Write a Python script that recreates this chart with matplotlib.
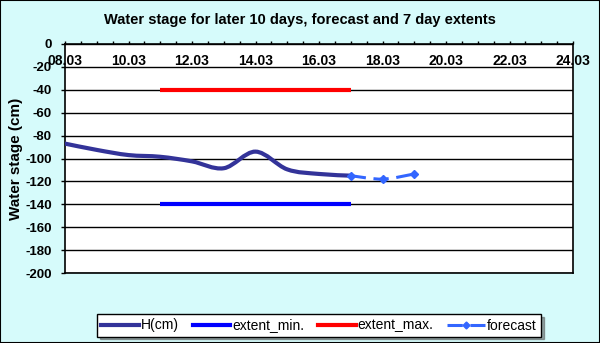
import matplotlib
matplotlib.use("Agg")
import matplotlib.pyplot as plt
from matplotlib.path import Path
from matplotlib.patches import PathPatch
from matplotlib.lines import Line2D
import numpy as np

plt.rcParams['font.family'] = ['Liberation Sans', 'DejaVu Sans']

# ---- data ----
title = "Water stage for later 10 days, forecast and 7 day extents"
h_dates = ["08.03", "09.03", "10.03", "11.03", "12.03", "13.03", "14.03", "15.03", "16.03", "17.03"]
h_values = [-87, -92.5, -97, -98.5, -102.5, -108.5, -94, -109.5, -113.5, -115]
fc_dates = ["17.03", "18.03", "19.03"]
fc_values = [-115, -118, -113.5]
ext_dates = ["11.03", "17.03"]
ext_min = [-140, -140]
ext_max = [-40, -40]
xtick_labels = ["08.03", "10.03", "12.03", "14.03", "16.03", "18.03", "20.03", "22.03", "24.03"]
yticks = [0, -20, -40, -60, -80, -100, -120, -140, -160, -180, -200]


def day(s):
    return float(s.split(".")[0])


def smooth_path(xs, ys):
    pts = np.column_stack([xs, ys]).astype(float)
    n = len(pts)
    verts = [pts[0]]
    codes = [Path.MOVETO]
    for i in range(n - 1):
        p0 = pts[i - 1] if i > 0 else pts[i]
        p1 = pts[i]
        p2 = pts[i + 1]
        p3 = pts[i + 2] if i + 2 < n else pts[i + 1]
        c1 = p1 + (p2 - p0) / 6.0
        c2 = p2 - (p3 - p1) / 6.0
        verts += [c1, c2, p2]
        codes += [Path.CURVE4] * 3
    return Path(verts, codes)


bg = '#D6FBFB'
fig = plt.figure(figsize=(6.0, 3.43), dpi=100, facecolor=bg)
fig.patches.append(plt.Rectangle((0, 0), 1, 1, transform=fig.transFigure,
                                 fill=False, edgecolor='black', linewidth=1.5))
ax = fig.add_axes([65 / 600, 1 - 273 / 343, (573 - 65) / 600, (273 - 44) / 343])
ax.set_facecolor('white')

hx = [day(d) for d in h_dates]
fx = [day(d) for d in fc_dates]
ex = [day(d) for d in ext_dates]

c_h = '#333399'
c_min = '#0000FF'
c_max = '#FF0000'
c_fc = '#3366FF'

ax.add_patch(PathPatch(smooth_path(hx, h_values), facecolor='none', edgecolor=c_h,
                       linewidth=3.0, capstyle='round', zorder=4))
ax.plot(ex, ext_min, color=c_min, linewidth=3.0, zorder=3, solid_capstyle='butt')
ax.plot(ex, ext_max, color=c_max, linewidth=3.0, zorder=3, solid_capstyle='butt')
ax.add_patch(PathPatch(smooth_path(fx, fc_values), facecolor='none', edgecolor=c_fc,
                       linewidth=2.2, linestyle=(0, (5, 2.5)), zorder=5))
ax.plot(fx, fc_values, linestyle='none', marker='D', markersize=4, color=c_fc, zorder=6)

ax.set_xlim(8, 24)
ax.set_ylim(-200, 0)
ax.set_yticks(yticks)
ax.set_yticklabels([str(v) for v in yticks], fontweight='bold', fontsize=9.5)
ax.yaxis.grid(True, color='black', linewidth=1)
ax.set_axisbelow(True)

xt = [day(s) for s in xtick_labels]
ax.set_xticks(xt)
ax.set_xticklabels(xtick_labels, fontweight='bold', fontsize=10)
ax.set_xticks(np.arange(8, 24.01, 0.5), minor=True)
ax.xaxis.set_ticks_position('top')
ax.tick_params(axis='x', which='both', direction='out', length=2.5, width=1, color='black')
ax.tick_params(axis='x', which='major', pad=-20)
ax.tick_params(axis='y', direction='out', length=3, width=1, pad=6.5)
for s in ax.spines.values():
    s.set_linewidth(1.2)
    s.set_color('black')

ax.set_ylabel("Water stage (cm)", fontweight='bold', fontsize=11)
ax.yaxis.set_label_coords(-0.082, 0.5)

fig.text(0.5, 1 - 20 / 343, title, ha='center', va='center', fontweight='bold', fontsize=10.5)

handles = [
    Line2D([], [], color=c_h, linewidth=3.0),
    Line2D([], [], color=c_min, linewidth=3.0),
    Line2D([], [], color=c_max, linewidth=3.0),
    Line2D([], [], color=c_fc, linewidth=2.2, linestyle=(0, (5, 2.5)), marker='D', markersize=3.5),
]
labels = ["H(cm)", "extent_min.", "extent_max.", "forecast"]
leg = fig.legend(handles, labels, loc='center', bbox_to_anchor=(319 / 600, 1 - 325.5 / 343),
                 ncol=4, fontsize=10, frameon=True, fancybox=False, shadow=True,
                 edgecolor='black', framealpha=1, handlelength=2.7, handletextpad=0.15,
                 columnspacing=1.0, borderpad=0.3)
leg.get_frame().set_linewidth(1)

fig.savefig("out.png", dpi=100, facecolor=bg)
